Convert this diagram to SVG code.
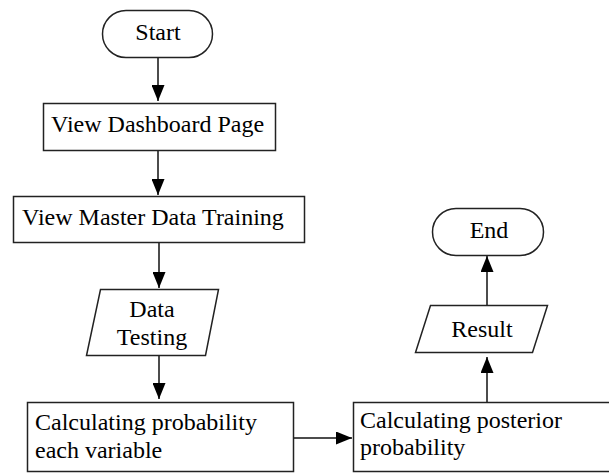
<svg xmlns="http://www.w3.org/2000/svg" width="609" height="473" viewBox="0 0 609 473">
<style>
.s{fill:#fff;stroke:#222;stroke-width:1.5}
.t{font-family:"Liberation Serif","Times New Roman",serif;font-size:24px;fill:#000}
.c{text-anchor:middle}
.e{stroke:#111;stroke-width:1.5;fill:none;marker-end:url(#a)}
</style>
<defs>
<marker id="a" markerUnits="userSpaceOnUse" markerWidth="16" markerHeight="13" refX="16" refY="6.5" orient="auto">
<path d="M0,0 L16,6.5 L0,13 z" fill="#000"/>
</marker>
</defs>
<rect width="609" height="473" fill="#fff"/>
<g id="connectors">
<line class="e" x1="158" y1="57" x2="158" y2="101"/>
<line class="e" x1="158" y1="150" x2="158" y2="195"/>
<line class="e" x1="159" y1="242" x2="159" y2="288"/>
<line class="e" x1="159" y1="355" x2="159" y2="399"/>
<line class="e" x1="294" y1="438" x2="352" y2="438"/>
<line class="e" x1="487" y1="402" x2="487" y2="357"/>
<line class="e" x1="487" y1="305" x2="487" y2="256"/>
</g>
<g id="start">
<rect class="s" x="102.5" y="10.5" width="110" height="47" rx="23.5"/>
<text class="t c" x="158" y="40">Start</text>
</g>
<g id="dashboard">
<rect class="s" x="43.5" y="103.5" width="232" height="47"/>
<text class="t" x="51" y="132">View Dashboard Page</text>
</g>
<g id="master">
<rect class="s" x="13.5" y="196.5" width="291" height="46"/>
<text class="t" x="22" y="225">View Master Data Training</text>
</g>
<g id="testing">
<polygon class="s" points="100.5,289.5 218.5,289.5 205.5,355.5 86.5,355.5"/>
<text class="t c" x="152" y="317">Data</text>
<text class="t c" x="152" y="345">Testing</text>
</g>
<g id="calc">
<rect class="s" x="27.5" y="402.5" width="266" height="69"/>
<text class="t" x="35" y="430">Calculating probability</text>
<text class="t" x="35" y="458">each variable</text>
</g>
<g id="posterior">
<rect class="s" x="353.5" y="402.5" width="270" height="69"/>
<text class="t" x="360" y="428">Calculating posterior</text>
<text class="t" x="360" y="455">probability</text>
</g>
<g id="result">
<polygon class="s" points="430.5,305.5 547.5,305.5 532.5,352.5 415.5,352.5"/>
<text class="t c" x="482" y="337">Result</text>
</g>
<g id="end">
<rect class="s" x="432.5" y="208.5" width="111" height="47" rx="23.5"/>
<text class="t c" x="489" y="238">End</text>
</g>
</svg>
